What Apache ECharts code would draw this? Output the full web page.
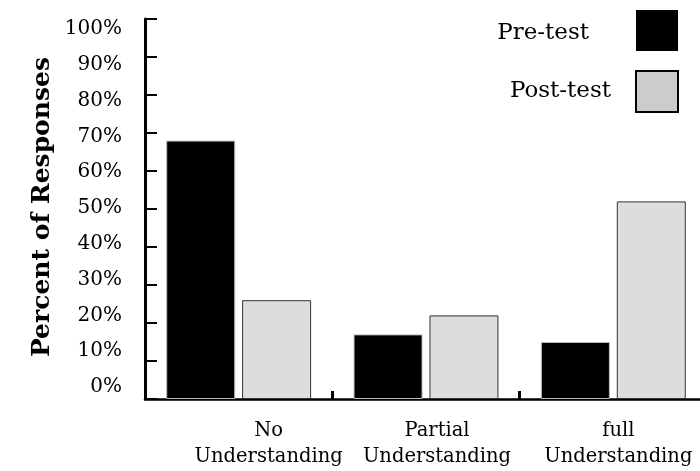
<!DOCTYPE html>
<html>
<head>
<meta charset="utf-8">
<script src="https://cdn.jsdelivr.net/npm/echarts@6/dist/echarts.min.js"></script>
<style>
  html, body { margin: 0; padding: 0; background: #fff; }
</style>
</head>
<body>
<div id="chart" style="width:700px;height:471px"></div>
<script>
// data
var categories = ['No\nUnderstanding', 'Partial\nUnderstanding', 'full\nUnderstanding'];
var preTest = [68, 17, 15];
var postTest = [26, 22, 52];
var yMin = 0;
var yMax = 100;
var yStep = 10;

// labels sit a bit right of the category centre in the original
var labelShift = [60, 22, 10];

var chart = echarts.init(document.getElementById('chart'), null, { renderer: 'canvas' });
var serif = '"DejaVu Serif", "Liberation Serif", serif';

var rich = {};
labelShift.forEach(function (s, i) {
  rich['l' + i] = { fontFamily: serif, fontSize: 19.5, color: '#000', lineHeight: 26, padding: [0, 0, 0, s] };
});

var option = {
  animation: false,
  textStyle: { fontFamily: serif },
  grid: [
    // bars (the last category runs a few px past the right edge)
    { left: 145, width: 562, top: 19, bottom: 72, outerBoundsMode: 'none' },
    // only carries the percent labels, which are packed a little tighter than the ticks
    { left: 145, width: 562, top: 29, bottom: 84, outerBoundsMode: 'none' }
  ],
  legend: {
    orient: 'vertical',
    right: 21,
    top: 10,
    padding: 0,
    align: 'right',
    itemWidth: 42,
    itemHeight: 41,
    itemGap: 19,
    textStyle: {
      fontFamily: serif, fontSize: 23, color: '#000',
      rich: {
        pre: { fontFamily: serif, fontSize: 23, color: '#000', padding: [6, 42, 0, 0] },
        post: { fontFamily: serif, fontSize: 23, color: '#000', padding: [0, 20, 0, 0] }
      }
    },
    formatter: function (name) {
      return name === 'Pre-test' ? '{pre|' + name + '}' : '{post|' + name + '}';
    },
    data: [
      { name: 'Pre-test', icon: 'rect', itemStyle: { color: '#000', borderWidth: 0 } },
      { name: 'Post-test', icon: 'rect', itemStyle: { color: '#cccccc', borderColor: '#000', borderWidth: 2 } }
    ]
  },
  xAxis: [
    {
      type: 'category',
      gridIndex: 0,
      data: categories,
      axisLine: { lineStyle: { color: '#000', width: 2.5 } },
      axisTick: { show: true, interval: 0, inside: true, length: 8, lineStyle: { color: '#000', width: 3 } },
      axisLabel: {
        interval: 0,
        hideOverlap: false,
        margin: 19,
        formatter: function (v, i) {
          var parts = v.split('\n');
          return '{l' + i + '|' + parts[0] + '}\n{l' + i + '|' + parts[1] + '}';
        },
        rich: rich
      }
    },
    { type: 'category', gridIndex: 1, data: categories, show: false }
  ],
  yAxis: [
    {
      type: 'value',
      gridIndex: 0,
      min: yMin,
      max: yMax,
      interval: yStep,
      name: 'Percent of Responses',
      nameLocation: 'middle',
      nameGap: 90,
      nameTextStyle: { fontFamily: serif, fontSize: 25, fontWeight: 'bold', color: '#000', padding: [0, 0, 0, 4] },
      axisLine: { show: true, lineStyle: { color: '#000', width: 3 } },
      axisTick: { show: true, inside: true, length: 12, lineStyle: { color: '#000', width: 2 } },
      splitLine: { show: false },
      axisLabel: { show: false }
    },
    {
      type: 'value',
      gridIndex: 1,
      min: yMin,
      max: yMax,
      interval: yStep,
      axisLine: { show: false },
      axisTick: { show: false },
      splitLine: { show: false },
      axisLabel: {
        margin: 23,
        fontFamily: serif,
        fontSize: 20,
        color: '#000',
        formatter: '{value}%'
      }
    }
  ],
  series: [
    {
      name: 'Pre-test',
      type: 'bar',
      data: preTest,
      barWidth: 69,
      barGap: '10%',
      itemStyle: { color: '#000', borderColor: '#bbb', borderWidth: 1 }
    },
    {
      name: 'Post-test',
      type: 'bar',
      data: postTest,
      barWidth: 69,
      barGap: '10%',
      itemStyle: { color: '#dddddd', borderColor: '#333', borderWidth: 1 }
    }
  ]
};

chart.setOption(option);
</script>
</body>
</html>
